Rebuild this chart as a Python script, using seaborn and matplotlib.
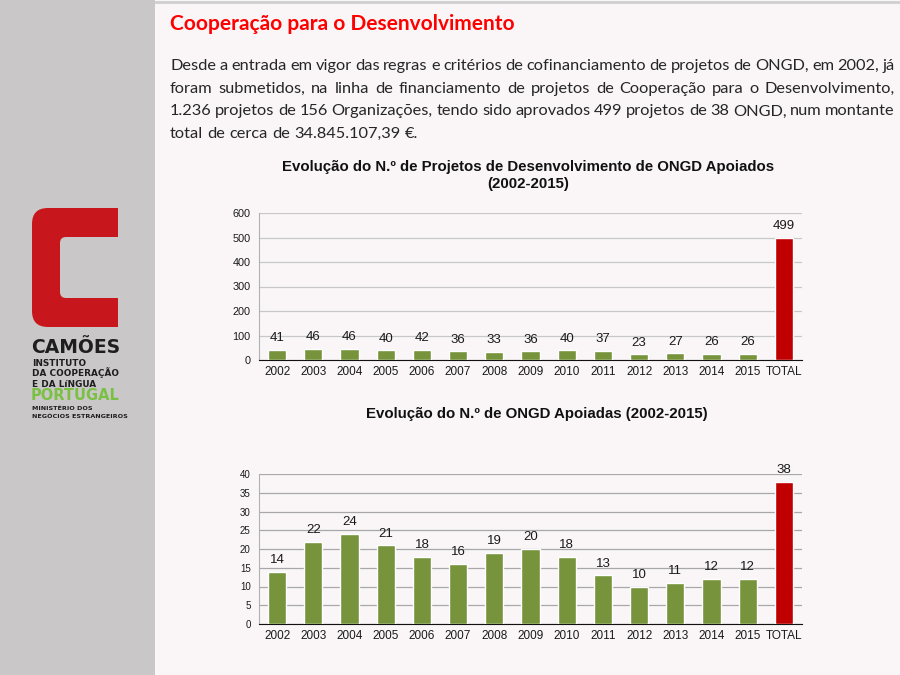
import matplotlib
matplotlib.use("Agg")
import matplotlib.pyplot as plt
from matplotlib.patches import Rectangle, FancyBboxPatch
from matplotlib.ticker import MultipleLocator, FixedLocator
import seaborn as sns
import pandas as pd

anos = ["2002", "2003", "2004", "2005", "2006", "2007", "2008", "2009",
        "2010", "2011", "2012", "2013", "2014", "2015", "TOTAL"]
projetos = [41, 46, 46, 40, 42, 36, 33, 36, 40, 37, 23, 27, 26, 26, 499]
ongd = [14, 22, 24, 21, 18, 16, 19, 20, 18, 13, 10, 11, 12, 12, 38]

titulo1 = ["Evolução do N.º de Projetos de Desenvolvimento de ONGD Apoiados", "(2002-2015)"]
titulo2 = "Evolução do N.º de ONGD Apoiadas (2002-2015)"

paragrafo = [
    "Desde a entrada em vigor das regras e critérios de cofinanciamento de projetos de ONGD, em 2002, já",
    "foram submetidos, na linha de financiamento de projetos de Cooperação para o Desenvolvimento,",
    "1.236 projetos de 156 Organizações, tendo sido aprovados 499 projetos de 38 ONGD, num montante",
    "total de cerca de 34.845.107,39 €.",
]

VERDE = "#77933c"
VERMELHO = "#c00000"
cores = [VERDE] * 14 + [VERMELHO]

sns.set_style("white")
plt.rcParams["font.family"] = ["Liberation Sans", "DejaVu Sans"]

fig = plt.figure(figsize=(9, 6.75), dpi=100, facecolor="#faf6f7")

# camada de fundo em pixels (0..900, 0..675)
bg = fig.add_axes([0, 0, 1, 1], zorder=0)
bg.set_xlim(0, 900)
bg.set_ylim(675, 0)
bg.axis("off")
bg.add_patch(Rectangle((0, 0), 155, 675, color="#c9c7c7", lw=0))
bg.plot([155, 900], [1.5, 1.5], color="#cfcfcf", lw=2)

# logo Camões
bg.add_patch(FancyBboxPatch((32, 208), 86, 119, boxstyle="round,pad=0,rounding_size=16",
                            color="#c8161d", lw=0))
bg.add_patch(Rectangle((95, 208), 23, 119, color="#c8161d", lw=0))
bg.add_patch(FancyBboxPatch((60, 237), 80, 61, boxstyle="round,pad=0,rounding_size=6",
                            color="#c9c7c7", lw=0))
bg.add_patch(Rectangle((118, 200), 30, 140, color="#c9c7c7", lw=0))
lk = dict(family=["DejaVu Sans"], fontweight="bold", va="baseline", ha="left")
bg.text(31, 353, "CAMÕES", fontsize=13.5, color="#1e1e1e", **lk)
bg.text(32, 366, "INSTITUTO", fontsize=6.4, color="#1e1e1e", **lk)
bg.text(32, 376.5, "DA COOPERAÇÃO", fontsize=6.4, color="#1e1e1e", **lk)
bg.text(32, 387, "E DA LíNGUA", fontsize=6.4, color="#1e1e1e", **lk)
bg.text(31, 400, "PORTUGAL", fontsize=10.5, color="#7ac143", **lk)
bg.text(32, 410, "MINISTÉRIO DOS", fontsize=4.6, color="#1e1e1e", **lk)
bg.text(32, 418, "NEGÓCIOS ESTRANGEIROS", fontsize=4.6, color="#1e1e1e", **lk)

# titulo e paragrafo
bg.text(170, 30, "Cooperação para o Desenvolvimento", family=["Lato", "DejaVu Sans"],
        fontweight="bold", fontsize=15, color="#ff0000", va="baseline")

r = fig.canvas.get_renderer()
pk = dict(family=["Lato", "DejaVu Sans"], fontsize=11.8, color="#262626", va="baseline")
m1 = bg.text(300, 300, "a", **pk)
m2 = bg.text(300, 300, "a a", **pk)
espaco = m2.get_window_extent(r).width - 2 * m1.get_window_extent(r).width
m1.remove()
m2.remove()
for i, linha in enumerate(paragrafo):
    y = 70 + i * 22.7
    palavras = linha.split(" ")
    ts = [bg.text(170, y, w, **pk) for w in palavras]
    ws = [t.get_window_extent(r).width for t in ts]
    if i < len(paragrafo) - 1:
        gap = (895 - 170 - sum(ws)) / (len(palavras) - 1)
    else:
        gap = espaco
    x = 170
    for t, w in zip(ts, ws):
        t.set_x(x)
        x += w + gap

tk = dict(fontweight="bold", color="#111111", ha="center", va="center")
bg.text(528, 167, titulo1[0], fontsize=10.8, **tk)
bg.text(528, 184, titulo1[1], fontsize=10.8, **tk)
bg.text(537, 414, titulo2, fontsize=10.8, **tk)


def grafico(rect, valores, ymax, passo, ytick_fs, grid_cor):
    ax = fig.add_axes(rect, zorder=2)
    ax.patch.set_alpha(0)
    df = pd.DataFrame({"ano": anos, "valor": valores})
    sns.barplot(data=df, x="ano", y="valor", hue="ano", palette=cores, width=0.5,
                saturation=1, legend=False, ax=ax, zorder=3)
    for c in ax.containers:
        ax.bar_label(c, padding=4, fontsize=9.5, color="#1a1a1a")
    ax.set_xlim(-0.5, len(anos) - 0.5)
    ax.set_ylim(0, ymax)
    ax.yaxis.set_major_locator(MultipleLocator(passo))
    ax.yaxis.grid(True, color=grid_cor, lw=0.9, zorder=0)
    ax.set_axisbelow(True)
    ax.set_xlabel("")
    ax.set_ylabel("")
    for s in ["top", "right"]:
        ax.spines[s].set_visible(False)
    ax.spines["left"].set_color("#b0b0b0")
    ax.spines["bottom"].set_color("#111111")
    ax.tick_params(axis="y", length=0, labelsize=ytick_fs, labelcolor="#1a1a1a", pad=6)
    ax.tick_params(axis="x", which="major", length=0, labelsize=8.5, labelcolor="#1a1a1a", pad=4)
    ax.xaxis.set_minor_locator(FixedLocator([i - 0.5 for i in range(len(anos) + 1)]))
    ax.tick_params(axis="x", which="minor", length=4, color="#111111", direction="out")
    return ax


grafico([259 / 900, 1 - 360 / 675, 543 / 900, 147 / 675], projetos, 600, 100, 7.8, "#c8c8c8")
grafico([259 / 900, 1 - 624 / 675, 543 / 900, 150 / 675], ongd, 40, 5, 7.0, "#a8a8a8")

fig.savefig("out.png", dpi=100, facecolor=fig.get_facecolor())
